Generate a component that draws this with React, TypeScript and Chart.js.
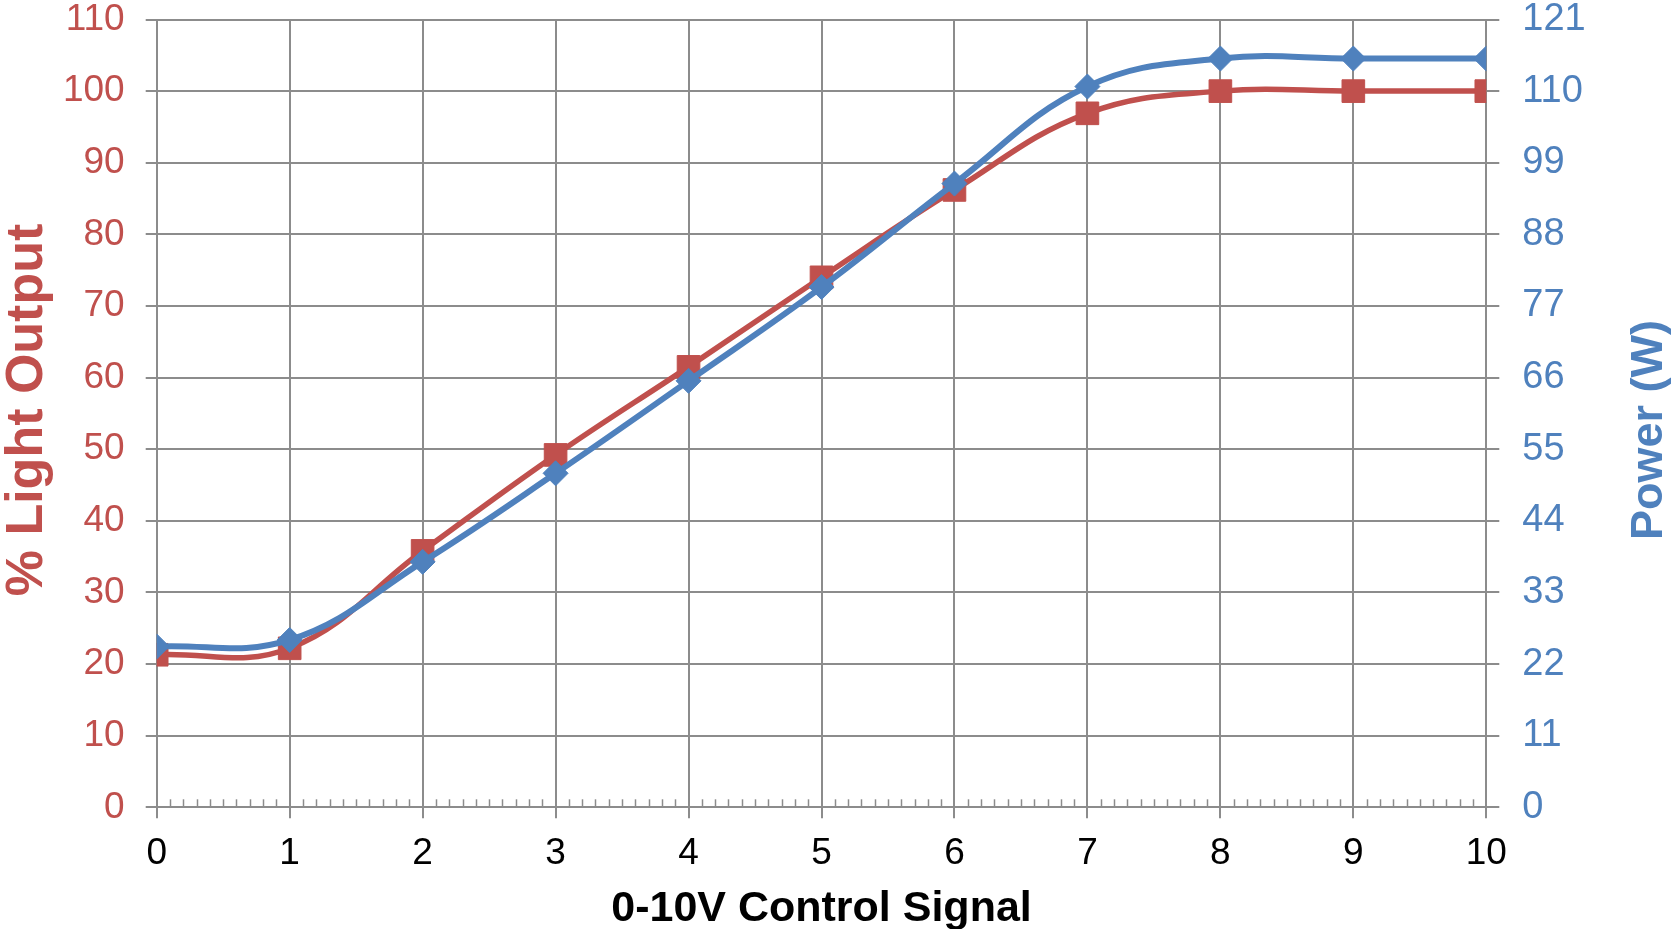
import React, { useEffect, useRef } from "react";
import { Chart, registerables } from "chart.js";

Chart.register(...registerables);

// ---- data ----
const controlSignal: number[] = [0, 1, 2, 3, 4, 5, 6, 7, 8, 9, 10];
const lightOutput: number[] = [21.3, 22.2, 35.8, 49.2, 61.5, 74.0, 86.2, 96.9, 100, 100, 100];
const powerW: number[] = [24.7, 25.7, 37.7, 51.3, 65.5, 79.9, 95.8, 110.7, 115, 115, 115];

const leftAxis = { min: 0, max: 110, step: 10 };
const rightAxis = { min: 0, max: 121, step: 11 };
const xAxis = { min: 0, max: 10, step: 1, minorPerMajor: 10 };

const xTitle = "0-10V Control Signal";
const leftTitle = "% Light Output";
const rightTitle = "Power (W)";

const RED = "#C0504D";
const BLUE = "#4F81BD";
const GRID = "#8C8C8C";
const FONT = "'Liberation Sans', Arial, Helvetica, sans-serif";

const customPlugin = {
  id: "customDecor",
  beforeDatasetsDraw(chart: any) {
    const xs = chart.scales.x;
    const ctx = chart.ctx;
    const yb = chart.chartArea.bottom;
    ctx.save();
    ctx.strokeStyle = GRID;
    ctx.lineWidth = 1.5;
    const n = (xAxis.max - xAxis.min) * xAxis.minorPerMajor;
    for (let i = 1; i < n; i++) {
      if (i % xAxis.minorPerMajor === 0) continue;
      const px = Math.round(xs.getPixelForValue(xAxis.min + i / xAxis.minorPerMajor)) + 0.5;
      ctx.beginPath();
      ctx.moveTo(px, yb);
      ctx.lineTo(px, yb - 8);
      ctx.stroke();
    }
    ctx.restore();
  },
  afterDraw(chart: any) {
    const ctx = chart.ctx;
    const area = chart.chartArea;
    ctx.save();
    ctx.fillStyle = RED;
    ctx.font = `bold 52px ${FONT}`;
    ctx.textAlign = "center";
    ctx.textBaseline = "alphabetic";
    ctx.translate(42, 410);
    ctx.rotate(-Math.PI / 2);
    ctx.fillText(leftTitle, 0, 0);
    ctx.restore();

    ctx.save();
    ctx.fillStyle = BLUE;
    ctx.font = `bold 45px ${FONT}`;
    ctx.textAlign = "center";
    ctx.textBaseline = "alphabetic";
    ctx.translate(1662, 430);
    ctx.rotate(-Math.PI / 2);
    ctx.fillText(rightTitle, 0, 0);
    ctx.restore();

    ctx.save();
    ctx.fillStyle = "#000000";
    ctx.font = `bold 43px ${FONT}`;
    ctx.textAlign = "center";
    ctx.textBaseline = "alphabetic";
    ctx.fillText(xTitle, (area.left + area.right) / 2, 921);
    ctx.restore();
  },
};

export default function App() {
  const ref = useRef<HTMLCanvasElement | null>(null);

  useEffect(() => {
    if (!ref.current) return;
    const chart = new Chart(ref.current, {
      type: "line",
      data: {
        datasets: [
          {
            label: rightTitle,
            data: controlSignal.map((x, i) => ({ x, y: powerW[i] })),
            yAxisID: "y2",
            borderColor: BLUE,
            backgroundColor: BLUE,
            borderWidth: 6,
            pointStyle: "rectRot",
            pointRadius: 12.5,
            pointBorderWidth: 1,
            pointBorderColor: BLUE,
            pointBackgroundColor: BLUE,
            tension: 0.4,
            fill: false,
          },
          {
            label: leftTitle,
            data: controlSignal.map((x, i) => ({ x, y: lightOutput[i] })),
            yAxisID: "y",
            borderColor: RED,
            backgroundColor: RED,
            borderWidth: 5.5,
            pointStyle: "rect",
            pointRadius: 16,
            pointBorderWidth: 1,
            pointBorderColor: RED,
            pointBackgroundColor: RED,
            tension: 0.4,
            fill: false,
          },
        ],
      },
      options: {
        animation: false,
        responsive: false,
        maintainAspectRatio: false,
        layout: { padding: { top: 19.5, left: 0, right: 0, bottom: 0 } },
        plugins: {
          legend: { display: false },
          tooltip: { enabled: false },
          title: { display: false },
        },
        scales: {
          x: {
            type: "linear",
            position: "bottom",
            min: xAxis.min,
            max: xAxis.max,
            afterFit: (s: any) => {
              s.height = 121.7;
              s.paddingLeft = 0;
              s.paddingRight = 0;
            },
            ticks: {
              stepSize: xAxis.step,
              color: "#000000",
              font: { family: FONT, size: 37, lineHeight: 1 },
              padding: 17,
              maxRotation: 0,
            },
            grid: {
              color: GRID,
              lineWidth: 2,
              tickLength: 11,
              drawTicks: true,
            },
            border: { display: true, color: GRID, width: 2 },
          },
          y: {
            type: "linear",
            position: "left",
            min: leftAxis.min,
            max: leftAxis.max,
            afterFit: (s: any) => {
              s.width = 156.7;
              s.paddingTop = 0;
              s.paddingBottom = 0;
            },
            ticks: {
              stepSize: leftAxis.step,
              color: RED,
              font: { family: FONT, size: 37, lineHeight: 1 },
              padding: 21,
            },
            grid: {
              color: GRID,
              lineWidth: 2,
              tickLength: 11,
              drawTicks: true,
            },
            border: { display: true, color: GRID, width: 2 },
          },
          y2: {
            type: "linear",
            position: "right",
            min: rightAxis.min,
            max: rightAxis.max,
            afterFit: (s: any) => {
              s.width = 184.7;
              s.paddingTop = 0;
              s.paddingBottom = 0;
            },
            ticks: {
              stepSize: rightAxis.step,
              color: BLUE,
              font: { family: FONT, size: 38, lineHeight: 1 },
              padding: 23,
            },
            grid: {
              drawOnChartArea: false,
              color: GRID,
              lineWidth: 2,
              tickLength: 13,
              drawTicks: true,
            },
            border: { display: true, color: GRID, width: 2 },
          },
        },
      },
      plugins: [customPlugin],
    });
    return () => chart.destroy();
  }, []);

  return (
    <div style={{ position: "absolute", left: 0, top: 0, width: 1671, height: 929 }}>
      <canvas ref={ref} width={1671} height={929} style={{ display: "block" }} />
    </div>
  );
}
